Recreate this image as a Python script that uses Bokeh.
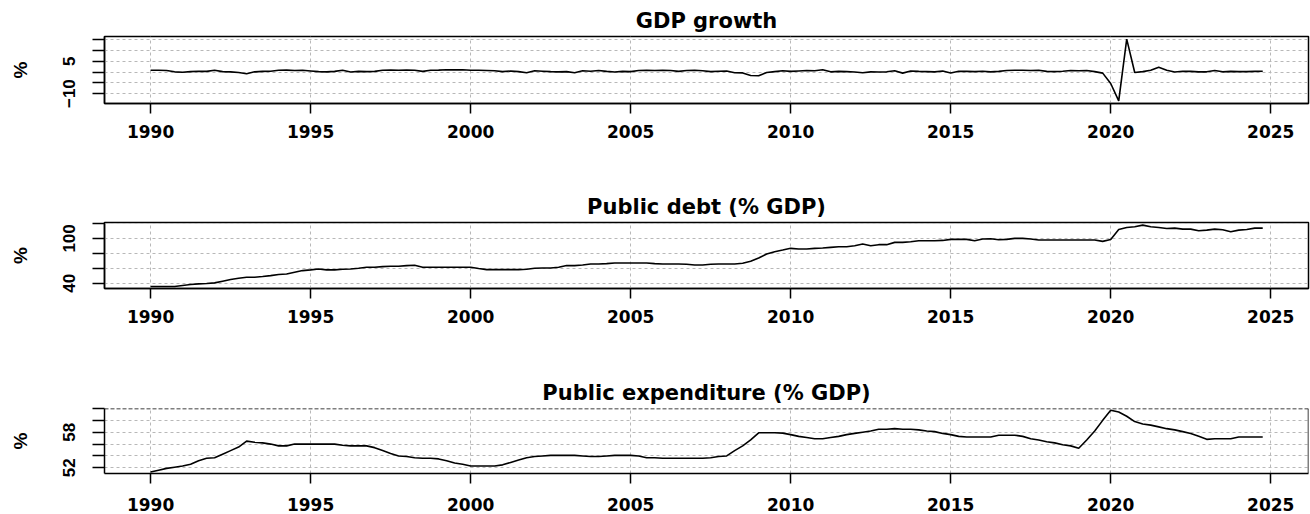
from bokeh.plotting import figure
from bokeh.layouts import column
from bokeh.models import Range1d, FixedTicker, Span
from bokeh.embed import file_html
from bokeh.resources import INLINE

# Quarterly observations, 1990Q1 .. 2024Q4
years = list(range(1990, 2025))
quarter_time = [y + q / 4 for y in years for q in range(4)]

# GDP growth, quarter on quarter (%)
gdp_growth = [
    0.8, 0.8, 0.7, 0.1, -0.1, 0.2, 0.4, 0.3, 0.8, 0.2,
    0.1, -0.2, -0.8, 0.1, 0.3, 0.4, 0.8, 0.9, 0.7, 0.8,
    0.5, 0.2, 0.1, 0.3, 0.8, 0.0, 0.3, 0.2, 0.3, 0.8,
    0.9, 0.8, 0.9, 0.8, 0.3, 0.8, 0.9, 1.1, 1.0, 1.1,
    0.8, 0.8, 0.7, 0.6, 0.2, 0.5, 0.2, -0.3, 0.6, 0.4,
    0.2, 0.1, 0.2, -0.3, 0.6, 0.4, 0.7, 0.3, 0.0, 0.3,
    0.2, 0.7, 0.8, 0.7, 0.8, 0.7, 0.3, 0.7, 0.8, 0.6,
    0.2, 0.4, 0.5, -0.3, -0.4, -1.6, -1.7, -0.2, 0.2, 0.6,
    0.3, 0.5, 0.7, 0.6, 1.1, 0.1, 0.3, 0.2, 0.0, -0.3,
    0.1, 0.0, 0.1, 0.6, -0.5, 0.5, 0.3, 0.2, 0.1, 0.5,
    -0.4, 0.4, 0.3, 0.2, 0.4, 0.1, 0.3, 0.7, 0.8, 0.8,
    0.7, 0.8, 0.3, 0.2, 0.4, 0.7, 0.6, 0.7, 0.2, -0.5,
    -5.3, -13.4, 15.3, -0.2, 0.2, 0.8, 2.2, 0.8, 0.0, 0.4,
    0.3, 0.1, 0.1, 0.7, 0.1, 0.3, 0.2, 0.2, 0.3, 0.4,
]

# Public debt (% of GDP)
public_debt = [
    35.6, 35.6, 35.6, 35.6, 36.9, 38.2, 39.1, 39.6, 40.4, 42.7,
    44.9, 46.7, 48.0, 48.0, 48.9, 50.2, 51.6, 52.4, 54.7, 56.9,
    57.8, 59.1, 57.8, 57.8, 58.7, 59.1, 60.0, 61.3, 61.3, 62.2,
    62.7, 62.7, 63.6, 64.0, 61.3, 61.3, 61.3, 61.3, 61.3, 61.3,
    61.3, 59.6, 58.2, 58.2, 58.2, 58.2, 58.2, 58.7, 60.0, 60.4,
    60.4, 61.3, 63.6, 63.6, 64.4, 65.8, 65.8, 66.2, 67.1, 67.1,
    67.1, 67.1, 67.1, 66.2, 65.8, 65.8, 65.8, 65.3, 64.4, 64.4,
    65.3, 65.8, 65.8, 65.8, 66.7, 69.3, 73.8, 79.1, 82.2, 84.4,
    86.7, 85.8, 85.8, 86.7, 87.1, 88.0, 88.9, 88.9, 90.2, 92.4,
    90.2, 91.6, 91.6, 94.7, 94.7, 95.6, 96.9, 96.9, 96.9, 97.3,
    98.7, 98.7, 98.7, 96.9, 99.1, 99.6, 98.2, 98.7, 100.0, 100.0,
    99.1, 97.8, 97.8, 97.8, 97.8, 97.8, 97.8, 97.8, 97.8, 96.0,
    98.5, 112.0, 114.7, 115.6, 117.8, 115.6, 114.7, 113.3, 113.8, 112.4,
    112.4, 110.2, 111.1, 112.4, 111.6, 108.9, 111.1, 112.0, 113.8, 113.8,
]

# Public expenditure (% of GDP)
public_expenditure = [
    51.3, 51.6, 51.9, 52.1, 52.3, 52.6, 53.2, 53.6, 53.7, 54.3,
    54.9, 55.5, 56.5, 56.3, 56.2, 56.0, 55.7, 55.7, 56.0, 56.0,
    56.0, 56.0, 56.0, 56.0, 55.8, 55.7, 55.7, 55.7, 55.4, 54.9,
    54.4, 54.0, 53.9, 53.7, 53.6, 53.6, 53.5, 53.2, 52.8, 52.6,
    52.3, 52.3, 52.3, 52.3, 52.5, 52.9, 53.3, 53.7, 53.9, 54.0,
    54.1, 54.1, 54.1, 54.1, 54.0, 53.9, 53.9, 54.0, 54.1, 54.1,
    54.1, 54.0, 53.7, 53.7, 53.6, 53.6, 53.6, 53.6, 53.6, 53.6,
    53.7, 53.9, 54.0, 54.9, 55.7, 56.7, 57.9, 57.9, 57.9, 57.85,
    57.6, 57.3, 57.1, 56.9, 56.9, 57.1, 57.3, 57.6, 57.8, 58.0,
    58.2, 58.5, 58.5, 58.6, 58.5, 58.5, 58.4, 58.2, 58.1, 57.8,
    57.6, 57.3, 57.2, 57.2, 57.2, 57.2, 57.5, 57.5, 57.5, 57.3,
    56.9, 56.7, 56.4, 56.2, 55.9, 55.7, 55.3, 56.7, 58.2, 60.0,
    61.7, 61.4, 60.7, 59.8, 59.4, 59.2, 58.9, 58.6, 58.4, 58.1,
    57.8, 57.3, 56.8, 56.9, 56.9, 56.9, 57.2, 57.2, 57.2, 57.2,
]

# Axis ticks and which tick labels are printed
x_ticks = [1990, 1995, 2000, 2005, 2010, 2015, 2020, 2025]
gdp_ticks = [-10, -5, 0, 5, 10, 15]
gdp_shown = [-10, 5]
debt_ticks = [40, 60, 80, 100, 120]
debt_shown = [40, 100]
exp_ticks = [52, 54, 56, 58, 60, 62]
exp_shown = [52, 58]

X_RANGE = (1988.56, 2026.18)
GRID_COLOR = "#b8b8b8"


def make_panel(title, values, y_range, y_ticks, shown, top, frame_h, bottom,
               x_label_standoff, dashed_top=False):
    p = figure(
        frame_width=1204, frame_height=frame_h,
        min_border_left=104, min_border_right=2,
        min_border_top=top, min_border_bottom=bottom,
        x_range=Range1d(*X_RANGE), y_range=Range1d(*y_range),
        output_backend="svg", toolbar_location=None,
        background_fill_color="white", border_fill_color="white",
    )
    p.title.text = title
    p.title.align = "center"
    p.title.text_font = "DejaVu Sans"
    p.title.text_font_style = "bold"
    p.title.text_font_size = "21px"
    p.title.text_color = "black"
    p.title.standoff = 8

    p.line(quarter_time, values, line_color="black", line_width=1.6)

    # x axis
    xa = p.xaxis[0]
    xa.ticker = FixedTicker(ticks=x_ticks)
    xa.major_tick_out = 10
    xa.major_tick_in = 0
    xa.minor_tick_line_color = None
    xa.axis_line_width = 1.5
    xa.major_tick_line_width = 1.5
    xa.axis_line_color = "black"
    xa.major_tick_line_color = "black"
    xa.major_label_text_font = "DejaVu Sans"
    xa.major_label_text_font_style = "bold"
    xa.major_label_text_font_size = "17px"
    xa.major_label_text_color = "black"
    xa.major_label_standoff = x_label_standoff

    # y axis
    ya = p.yaxis[0]
    ya.ticker = FixedTicker(ticks=y_ticks)
    ya.major_label_overrides = {t: "" for t in y_ticks if t not in shown}
    ya.major_tick_out = 12
    ya.major_tick_in = 0
    ya.minor_tick_line_color = None
    ya.axis_line_width = 1.5
    ya.major_tick_line_width = 1.5
    ya.axis_line_color = "black"
    ya.major_tick_line_color = "black"
    ya.major_label_orientation = "vertical"
    ya.major_label_text_font = "Liberation Sans"
    ya.major_label_text_font_style = "bold"
    ya.major_label_text_font_size = "17px"
    ya.major_label_text_color = "black"
    ya.major_label_standoff = 17
    ya.axis_label = "%"
    ya.axis_label_text_font = "Liberation Sans"
    ya.axis_label_text_font_style = "bold"
    ya.axis_label_text_font_size = "19px"
    ya.axis_label_text_color = "black"
    ya.axis_label_standoff = 30

    # dotted grid
    p.xgrid.ticker = FixedTicker(ticks=x_ticks)
    p.ygrid.ticker = FixedTicker(ticks=y_ticks)
    for g in (p.xgrid[0], p.ygrid[0]):
        g.grid_line_color = GRID_COLOR
        g.grid_line_dash = "3 3"
        g.grid_line_width = 1

    if dashed_top:
        p.outline_line_color = None
        p.add_layout(Span(location=X_RANGE[1], dimension="height",
                          line_color="black", line_width=1.5))
        p.add_layout(Span(location=y_range[1], dimension="width",
                          line_color="black", line_width=1.5,
                          line_dash="4 2"))
    else:
        p.outline_line_color = "black"
        p.outline_line_width = 1.5
        p.outline_line_alpha = 1.0
    return p


p1 = make_panel("GDP growth", gdp_growth, (-14.6, 16.5), gdp_ticks, gdp_shown,
                top=36, frame_h=67, bottom=77, x_label_standoff=11)
p2 = make_panel("Public debt (% GDP)", public_debt, (32.9, 121.3), debt_ticks,
                debt_shown, top=42, frame_h=66, bottom=72, x_label_standoff=11)
p3 = make_panel("Public expenditure (% GDP)", public_expenditure, (51.04, 62.0),
                exp_ticks, exp_shown, top=48, frame_h=65, bottom=41,
                x_label_standoff=14, dashed_top=True)

layout = column(p1, p2, p3, spacing=0)
open("out.html", "w").write(file_html(layout, INLINE))
